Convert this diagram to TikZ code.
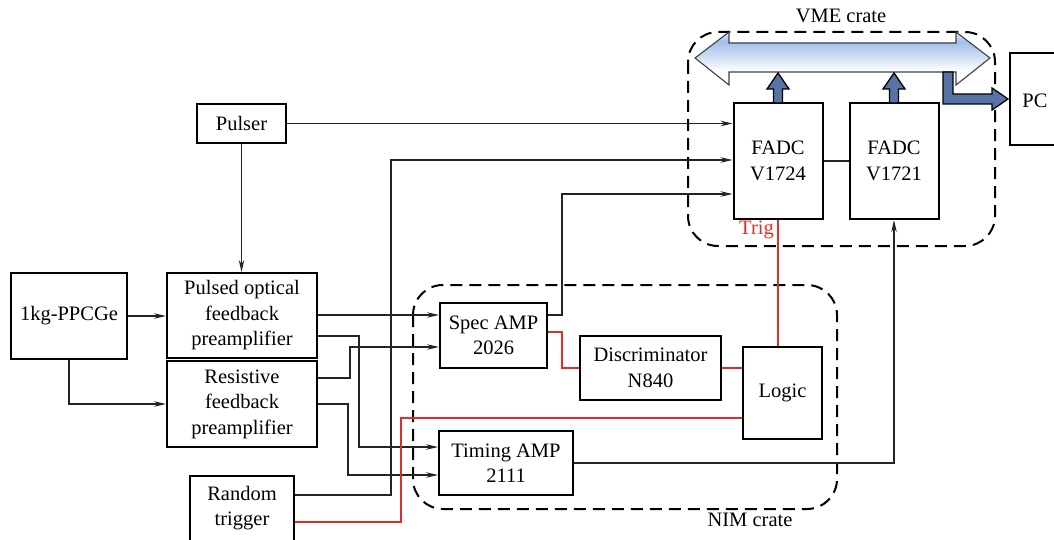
\documentclass[tikz,border=0pt]{standalone}
\usepackage{fontspec}
\setmainfont{Liberation Serif}
\usetikzlibrary{arrows.meta}
\definecolor{busblue}{RGB}{160,190,234}
\definecolor{arrblue}{RGB}{88,116,165}
\definecolor{sigred}{RGB}{225,45,40}
\definecolor{conncol}{RGB}{35,35,35}
\pgfdeclareverticalshading{busshade}{100bp}{color(0bp)=(white); color(38bp)=(white); color(66bp)=(busblue); color(72bp)=(busblue!55); color(100bp)=(busblue!55)}
\begin{document}
\begin{tikzpicture}[x=1pt,y=-1pt,
  font=\rmfamily\fontsize{20.5}{25.5}\selectfont,
  box/.style={draw, line width=2pt, inner sep=0pt, align=center},
  lbl/.style={inner sep=0pt, align=center},
  conn/.style={draw=conncol, line width=1.2pt},
  arr/.style={conn, -{Stealth[length=12pt,width=5.5pt]}},
  redl/.style={draw=sigred, line width=1.2pt},
  crate/.style={draw, line width=2pt, dash pattern=on 12pt off 7pt, rounded corners=30pt},
  fatarrow/.style={draw=black, line width=1.3pt, fill=arrblue, line join=miter}
]
\useasboundingbox (0,0) rectangle (1054,540);

% crates
\draw[crate] (688,32) rectangle (995,246);
\draw[crate] (413,285) rectangle (837,509);
\node[lbl] (vmelbl) at (841,16) {VME crate};
\node[lbl] (nimlbl) at (750,520) {NIM crate};

% VME bus
\path[draw=black!75, line width=1.1pt, shading=busshade]
  (695,58) -- (729,32) -- (729,43) -- (956,43) -- (956,32) -- (990,58)
  -- (956,85) -- (956,72) -- (729,72) -- (729,85) -- cycle;

% boxes
\node[box, minimum width=116pt, minimum height=86pt] (ppc) at (69,316) {1kg-PPCGe};
\node[box, minimum width=150pt, minimum height=85pt] (pof) at (242,315.5) {Pulsed optical\\feedback\\preamplifier};
\node[box, minimum width=150pt, minimum height=86pt] (res) at (242,404) {Resistive\\feedback\\preamplifier};
\node[box, minimum width=89pt, minimum height=39pt] (pulser) at (241.5,123.5) {Pulser};
\node[box, minimum width=104pt, minimum height=80pt, anchor=north] (rnd) at (242,475) {};
\node[lbl] (rndtext) at (242,508) {Random\\trigger};
\node[box, minimum width=89pt, minimum height=116pt] (fadc1) at (778,161) {FADC\\V1724};
\node[box, minimum width=89pt, minimum height=116pt] (fadc2) at (894,161) {FADC\\V1721};
\node[box, minimum width=70pt, minimum height=92pt, anchor=north west] (pc) at (1009,52) {};
\node[lbl] (pctext) at (1035,101) {PC};
\node[box, minimum width=107pt, minimum height=65pt] (spec) at (493.5,335.5) {Spec AMP\\2026};
\node[box, minimum width=134pt, minimum height=64pt] (timing) at (506,463) {Timing AMP\\2111};
\node[box, minimum width=141pt, minimum height=64pt] (disc) at (650.5,368) {Discriminator\\N840};
\node[box, minimum width=79pt, minimum height=92pt] (logic) at (782.5,393) {Logic};
\node[lbl, anchor=east, text=sigred] (trig) at (774,230) {Trig};

% fat arrows
\path[fatarrow] (773.5,103) -- (773.5,89) -- (767,89) -- (778,73) -- (789,89) -- (782.5,89) -- (782.5,103) -- cycle;
\path[fatarrow] (889.5,103) -- (889.5,89) -- (883,89) -- (894,73) -- (905,89) -- (898.5,89) -- (898.5,103) -- cycle;
\path[fatarrow] (943,72) -- (943,104) -- (992,104) -- (992,110) -- (1008,99) -- (992,88) -- (992,94) -- (953,94) -- (953,72) -- cycle;

% connectors
\draw[arr] (ppc.east) -- (pof.west |- ppc.east);
\draw[arr] (ppc.south) |- (res.west |- 0,404);
\draw[arr] (pulser.south) -- (pulser.south |- pof.north);
\draw[arr] (pulser.east) -- (fadc1.west |- pulser.east);
\draw[arr] (pof.east |- 0,315) -- (spec.west |- 0,315);
\draw[arr] (pof.east |- 0,336) -| (359,447) -- (timing.west |- 0,447);
\draw[arr] (res.east |- 0,378) -| (350,347) -- (spec.west |- 0,347);
\draw[arr] (res.east |- 0,404) -| (348,475) -- (timing.west |- 0,475);
\draw[arr] (rnd.east |- 0,495) -| (391,160) -- (fadc1.west |- 0,160);
\draw[arr] (spec.east |- 0,315) -| (562,194) -- (fadc1.west |- 0,194);
\draw[arr] (timing.east) -| (fadc2.south);
\draw[conn] (fadc1.east) -- (fadc2.west);

\draw[redl] (rnd.east |- 0,522) -| (401,418) -- (logic.west |- 0,418);
\draw[redl] (spec.east |- 0,332) -| (562,368) -- (disc.west);
\draw[redl] (disc.east) -- (logic.west |- disc.east);
\draw[redl] (fadc1.south) -- (fadc1.south |- logic.north);
\end{tikzpicture}
\end{document}
